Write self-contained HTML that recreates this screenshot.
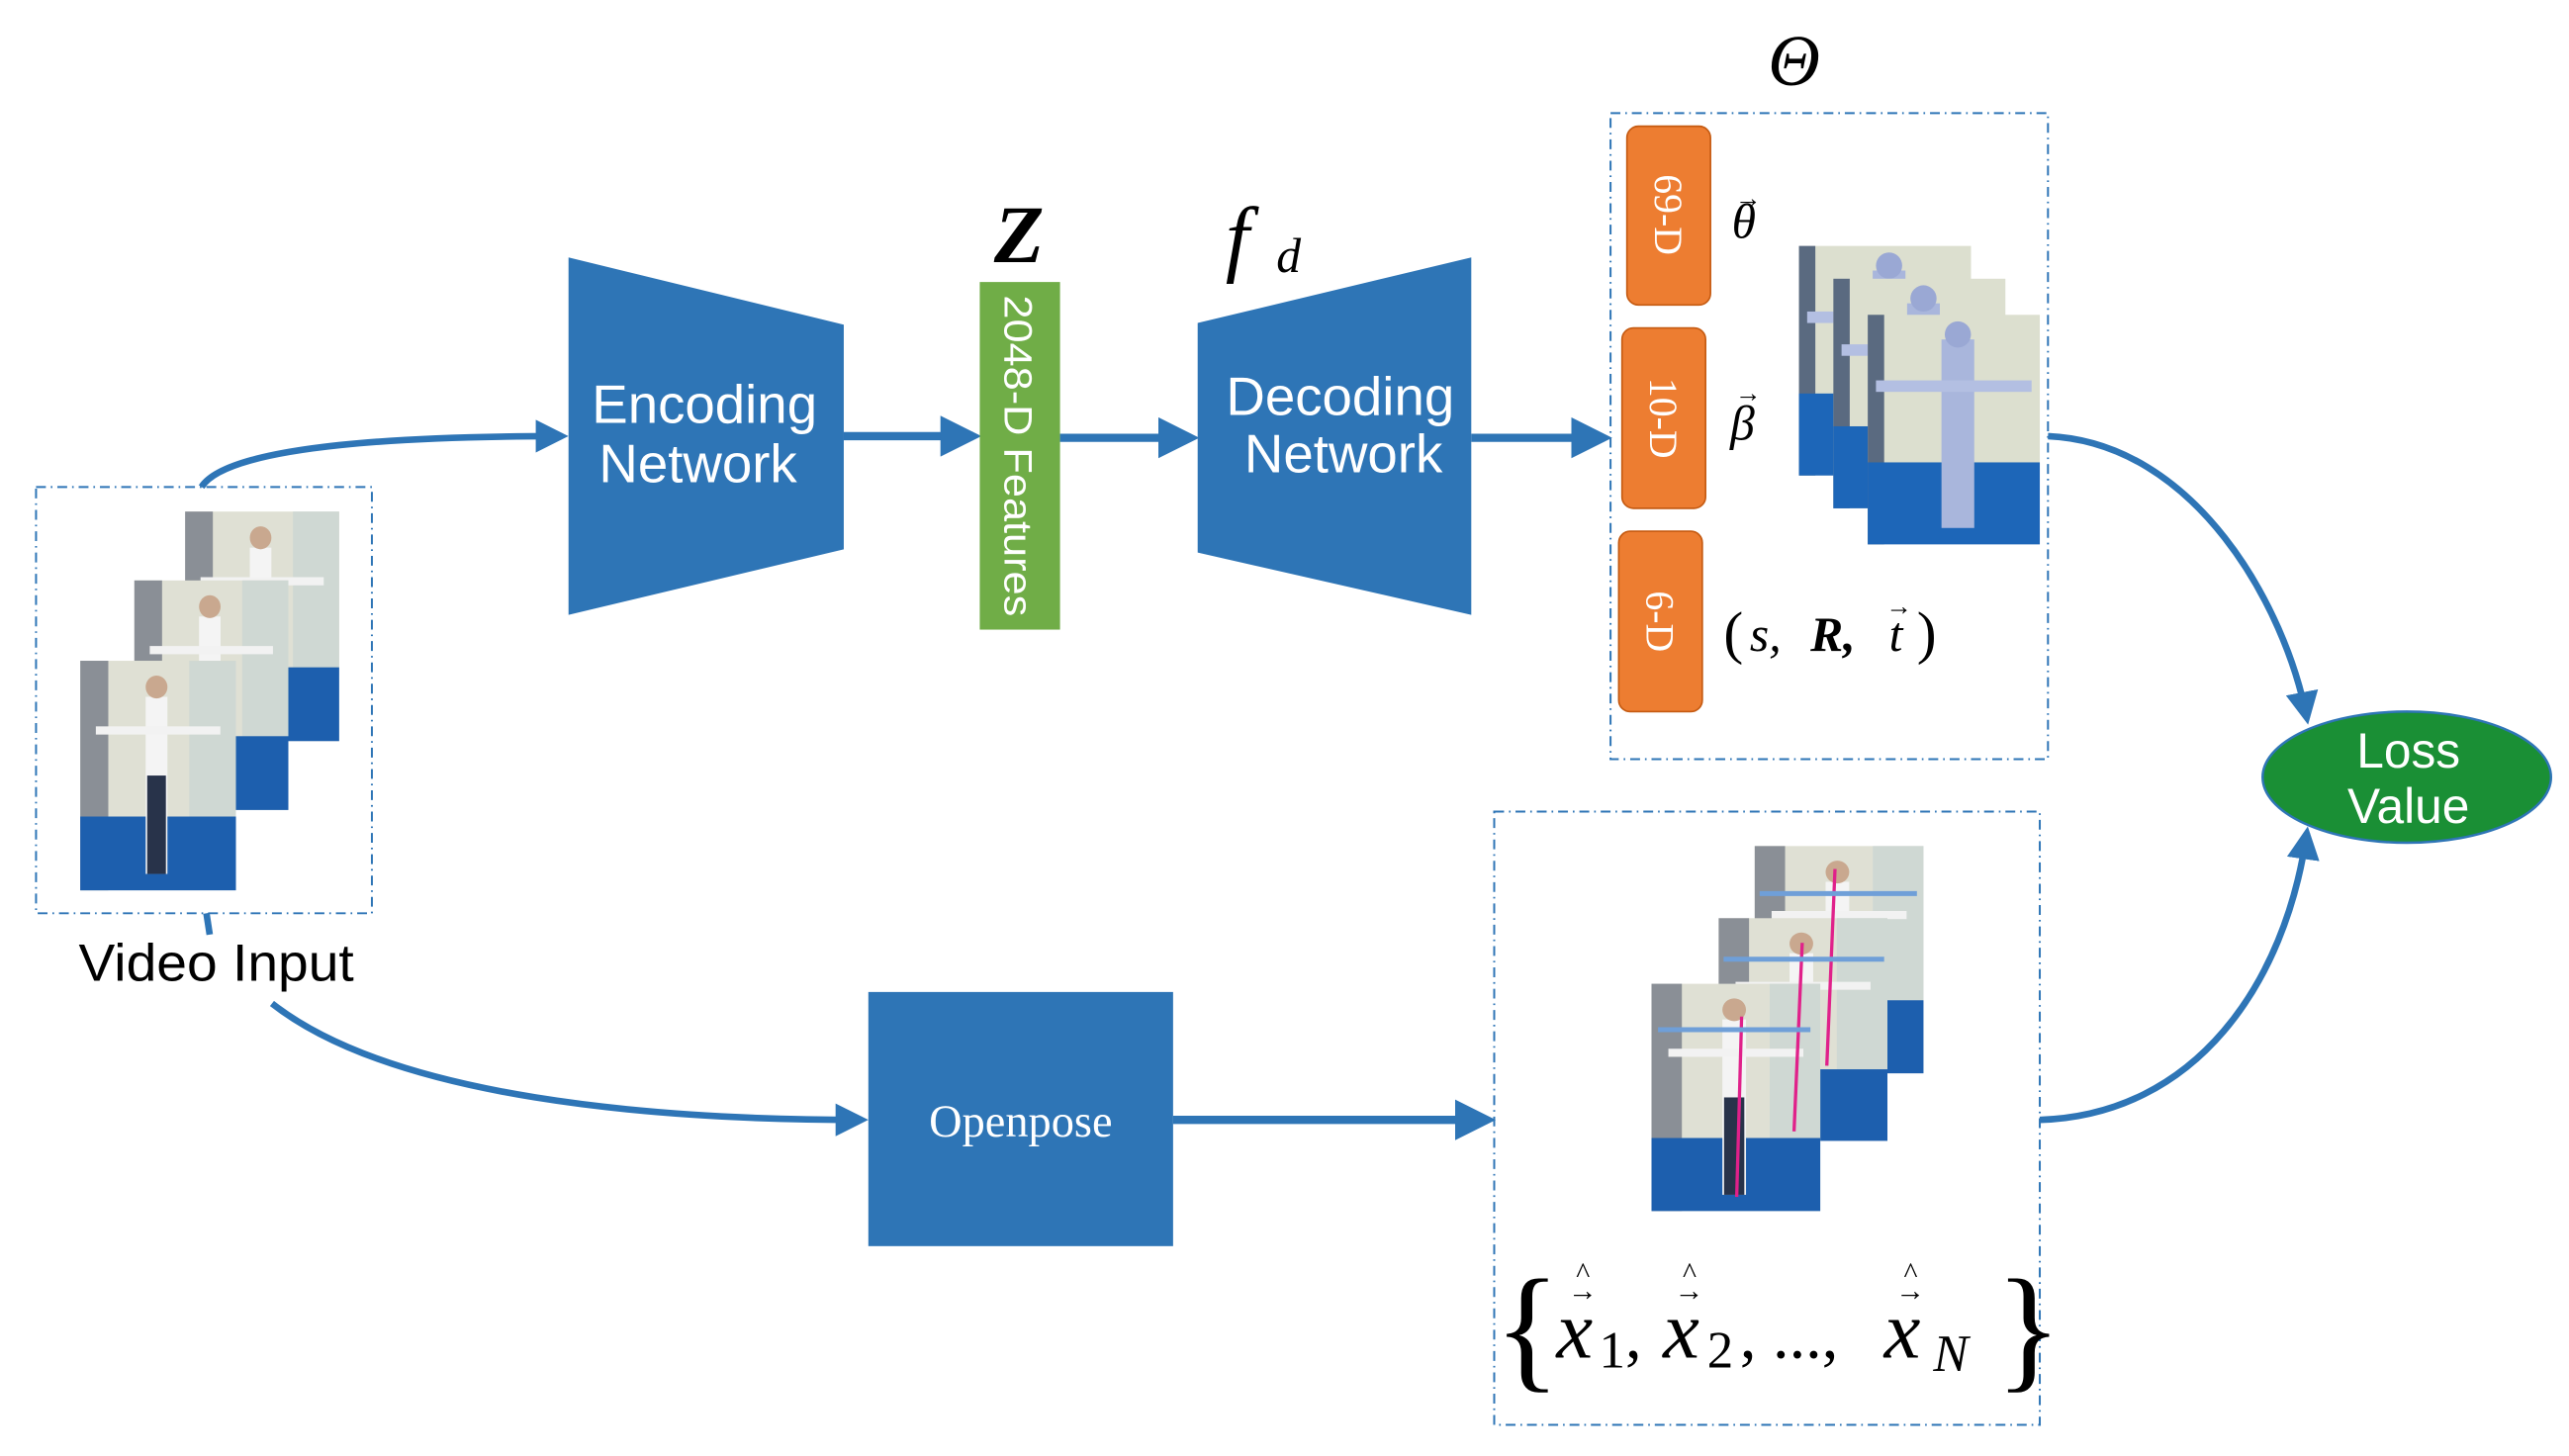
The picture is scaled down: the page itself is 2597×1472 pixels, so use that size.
<!DOCTYPE html>
<html><head><meta charset="utf-8"><style>
html,body{margin:0;padding:0;background:#fff;}
svg{display:block;}
</style></head><body>
<svg width="2597" height="1472" viewBox="0 0 1568 888" preserveAspectRatio="none" xmlns="http://www.w3.org/2000/svg">
<defs>
<marker id="ah" viewBox="0 0 10 10" refX="8" refY="5" markerWidth="5" markerHeight="5" orient="auto" markerUnits="strokeWidth">
<path d="M0,0 L10,5 L0,10 z" fill="#2e75b6"/></marker>
<g id="photo">
<rect x="0" y="0" width="100" height="140" fill="#dfe0d4"/>
<rect x="0" y="0" width="18" height="140" fill="#8a8f96"/>
<rect x="70" y="0" width="30" height="100" fill="#cfd8d3"/>
<rect x="0" y="95" width="100" height="45" fill="#1d5fae"/>
<rect x="42" y="22" width="14" height="108" fill="#f4f4f4"/>
<rect x="10" y="40" width="80" height="5" fill="#f2f2f2"/>
<rect x="43" y="70" width="12" height="60" fill="#28334a"/>
<circle cx="49" cy="16" r="7" fill="#c9a88f"/>
</g>
<g id="mesh">
<rect x="0" y="0" width="105" height="140" fill="#dcdfcf"/>
<rect x="0" y="0" width="10" height="140" fill="#5a6a80"/>
<rect x="0" y="90" width="105" height="50" fill="#1d66b8"/>
<rect x="45" y="15" width="20" height="115" fill="#a9b6dc"/>
<rect x="5" y="40" width="95" height="7" fill="#b3bfe2"/>
<circle cx="55" cy="12" r="8" fill="#9aa8d4"/>
</g>
</defs>

<rect x="22" y="297" width="205" height="260" fill="none" stroke="#2e75b6" stroke-width="1.2" stroke-dasharray="6,3,1,3"/>
<use href="#photo" transform="translate(113,312) scale(0.94,1.0)"/>
<use href="#photo" transform="translate(82,354) scale(0.94,1.0)"/>
<use href="#photo" transform="translate(49,403) scale(0.95,1.0)"/>
<text x="132" y="598" font-family="Liberation Sans, sans-serif" font-size="32" text-anchor="middle" fill="#000" textLength="168" lengthAdjust="spacingAndGlyphs">Video Input</text>

<path d="M123,297 C140,270 260,266 343,266" fill="none" stroke="#2e75b6" stroke-width="4" marker-end="url(#ah)"/>
<path d="M126,557 L128,570" fill="none" stroke="#2e75b6" stroke-width="4"/>
<path d="M166,612 C240,670 400,683 526,683" fill="none" stroke="#2e75b6" stroke-width="4" marker-end="url(#ah)"/>

<polygon points="347,157 515,198 515,335 347,375" fill="#2e75b6"/>
<text x="430" y="258" font-family="Liberation Sans, sans-serif" font-size="33" fill="#fff" text-anchor="middle">Encoding</text>
<text x="426" y="294" font-family="Liberation Sans, sans-serif" font-size="33" fill="#fff" text-anchor="middle">Network</text>
<line x1="515" y1="266" x2="594" y2="266" stroke="#2e75b6" stroke-width="5" marker-end="url(#ah)"/>

<rect x="598" y="172" width="49" height="212" fill="#70ad47"/>
<text transform="translate(613,278) rotate(90)" font-family="Liberation Sans, sans-serif" font-size="24" fill="#fff" text-anchor="middle" textLength="196" lengthAdjust="spacingAndGlyphs">2048-D Features</text>
<text x="622" y="160" font-family="Liberation Serif, serif" font-size="50" font-weight="bold" font-style="italic" fill="#000" text-anchor="middle">Z</text>
<line x1="647" y1="267" x2="727" y2="267" stroke="#2e75b6" stroke-width="5" marker-end="url(#ah)"/>

<polygon points="731,197 898,157 898,375 731,337" fill="#2e75b6"/>
<text x="818" y="253" font-family="Liberation Sans, sans-serif" font-size="33" fill="#fff" text-anchor="middle">Decoding</text>
<text x="820" y="288" font-family="Liberation Sans, sans-serif" font-size="33" fill="#fff" text-anchor="middle">Network</text>
<text x="748" y="162" font-family="Liberation Serif, serif" font-size="52" font-style="italic" fill="#000">f</text>
<text x="779" y="166" font-family="Liberation Serif, serif" font-size="30" font-style="italic" fill="#000">d</text>
<line x1="898" y1="267" x2="979" y2="267" stroke="#2e75b6" stroke-width="5" marker-end="url(#ah)"/>

<text x="1095" y="52" font-family="Liberation Serif, serif" font-size="44" font-style="italic" fill="#000" text-anchor="middle">Θ</text>
<rect x="983" y="69" width="267" height="394" fill="none" stroke="#2e75b6" stroke-width="1.2" stroke-dasharray="6,3,1,3"/>
<rect x="993" y="77" width="51" height="109" rx="7" fill="#ed7d31" stroke="#c55a11" stroke-width="1"/>
<rect x="990" y="200" width="51" height="110" rx="7" fill="#ed7d31" stroke="#c55a11" stroke-width="1"/>
<rect x="988" y="324" width="51" height="110" rx="7" fill="#ed7d31" stroke="#c55a11" stroke-width="1"/>
<text transform="translate(1010,131) rotate(90)" font-family="Liberation Serif, serif" font-size="24" fill="#fff" text-anchor="middle">69-D</text>
<text transform="translate(1007,255) rotate(90)" font-family="Liberation Serif, serif" font-size="24" fill="#fff" text-anchor="middle">10-D</text>
<text transform="translate(1005,379) rotate(90)" font-family="Liberation Serif, serif" font-size="24" fill="#fff" text-anchor="middle">6-D</text>
<text x="1057" y="145" font-family="Liberation Serif, serif" font-size="30" font-style="italic" fill="#000">θ</text>
<text x="1059" y="126" font-family="Liberation Serif, serif" font-size="16" fill="#000">→</text>
<text x="1056" y="268" font-family="Liberation Serif, serif" font-size="30" font-style="italic" fill="#000">β</text>
<text x="1059" y="245" font-family="Liberation Serif, serif" font-size="16" fill="#000">→</text>
<text x="1052" y="398" font-family="Liberation Serif, serif" font-size="36" fill="#000">(</text>
<text x="1068" y="397" font-family="Liberation Serif, serif" font-size="30" font-style="italic" fill="#000">s,</text>
<text x="1105" y="397" font-family="Liberation Serif, serif" font-size="30" font-style="italic" font-weight="bold" fill="#000">R,</text>
<text x="1153" y="397" font-family="Liberation Serif, serif" font-size="30" font-style="italic" fill="#000">t</text>
<text x="1151" y="375" font-family="Liberation Serif, serif" font-size="16" fill="#000">→</text>
<text x="1170" y="398" font-family="Liberation Serif, serif" font-size="36" fill="#000">)</text>
<use href="#mesh" transform="translate(1098,150)"/>
<use href="#mesh" transform="translate(1119,170)"/>
<use href="#mesh" transform="translate(1140,192)"/>

<path d="M1250,266 C1340,270 1395,370 1408,438" fill="none" stroke="#2e75b6" stroke-width="4" marker-end="url(#ah)"/>
<path d="M1245,683 C1340,680 1395,600 1408,508" fill="none" stroke="#2e75b6" stroke-width="4" marker-end="url(#ah)"/>
<ellipse cx="1469" cy="474" rx="88" ry="40" fill="#1a8f35" stroke="#2e75b6" stroke-width="1.5"/>
<text x="1470" y="468" font-family="Liberation Sans, sans-serif" font-size="30" fill="#fff" text-anchor="middle">Loss</text>
<text x="1470" y="502" font-family="Liberation Sans, sans-serif" font-size="30" fill="#fff" text-anchor="middle">Value</text>

<rect x="530" y="605" width="186" height="155" fill="#2e75b6"/>
<text x="623" y="693" font-family="Liberation Serif, serif" font-size="28" fill="#fff" text-anchor="middle">Openpose</text>
<line x1="716" y1="683" x2="908" y2="683" stroke="#2e75b6" stroke-width="5" marker-end="url(#ah)"/>

<rect x="912" y="495" width="333" height="374" fill="none" stroke="#2e75b6" stroke-width="1.2" stroke-dasharray="6,3,1,3"/>
<use href="#photo" transform="translate(1071,516) scale(1.03,0.99)"/>
<use href="#photo" transform="translate(1049,560) scale(1.03,0.97)"/>
<use href="#photo" transform="translate(1008,600) scale(1.03,0.99)"/>
<line x1="1120" y1="530" x2="1115" y2="650" stroke="#e0218a" stroke-width="2"/>
<line x1="1100" y1="575" x2="1095" y2="690" stroke="#e0218a" stroke-width="2"/>
<line x1="1063" y1="620" x2="1060" y2="730" stroke="#e0218a" stroke-width="2"/>
<line x1="1074" y1="545" x2="1170" y2="545" stroke="#6f9fd8" stroke-width="3"/>
<line x1="1052" y1="585" x2="1150" y2="585" stroke="#6f9fd8" stroke-width="3"/>
<line x1="1012" y1="628" x2="1105" y2="628" stroke="#6f9fd8" stroke-width="3"/>
<text x="912" y="838" font-family="Liberation Serif, serif" font-size="84" fill="#000">{</text>
<text x="950" y="828" font-family="Liberation Serif, serif" font-size="50" font-style="italic" fill="#000">x</text>
<text x="976" y="834" font-family="Liberation Serif, serif" font-size="32" fill="#000">1</text>
<text x="992" y="828" font-family="Liberation Serif, serif" font-size="40" fill="#000">,</text>
<text x="1015" y="828" font-family="Liberation Serif, serif" font-size="50" font-style="italic" fill="#000">x</text>
<text x="1042" y="834" font-family="Liberation Serif, serif" font-size="32" fill="#000">2</text>
<text x="1062" y="828" font-family="Liberation Serif, serif" font-size="40" fill="#000">, ...,</text>
<text x="1150" y="828" font-family="Liberation Serif, serif" font-size="50" font-style="italic" fill="#000">x</text>
<text x="1180" y="836" font-family="Liberation Serif, serif" font-size="32" font-style="italic" fill="#000">N</text>
<text x="1218" y="838" font-family="Liberation Serif, serif" font-size="84" fill="#000">}</text>
<text x="957" y="793" font-family="Liberation Serif, serif" font-size="18" fill="#000">→</text>
<text x="1022" y="793" font-family="Liberation Serif, serif" font-size="18" fill="#000">→</text>
<text x="1157" y="793" font-family="Liberation Serif, serif" font-size="18" fill="#000">→</text>
<text x="962" y="782" font-family="Liberation Serif, serif" font-size="18" fill="#000">^</text>
<text x="1027" y="782" font-family="Liberation Serif, serif" font-size="18" fill="#000">^</text>
<text x="1162" y="782" font-family="Liberation Serif, serif" font-size="18" fill="#000">^</text>
</svg>
</body></html>
